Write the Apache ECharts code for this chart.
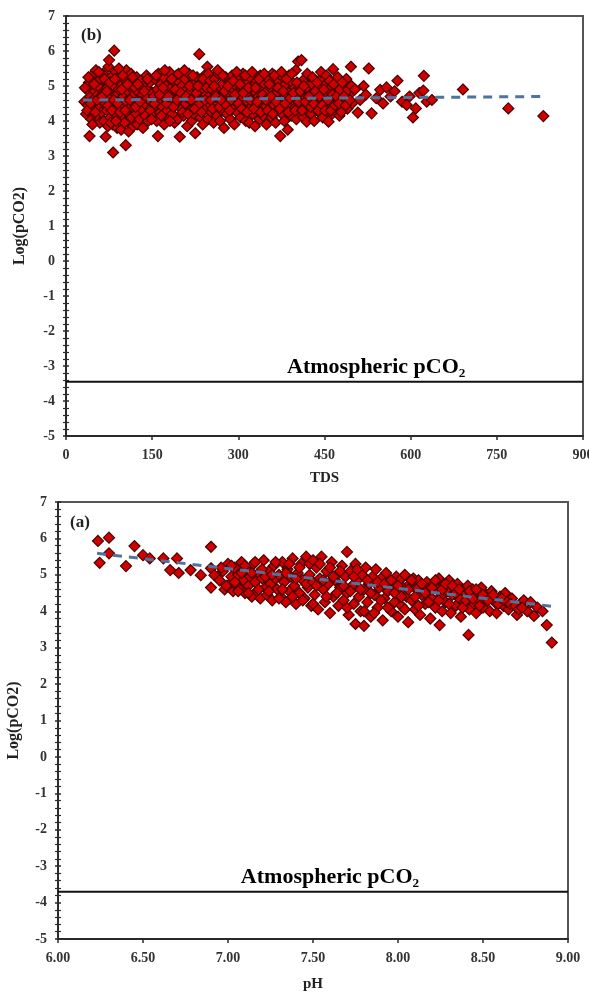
<!DOCTYPE html>
<html>
<head>
<meta charset="utf-8">
<script src="https://cdn.jsdelivr.net/npm/echarts@6/dist/echarts.min.js"></script>
<style>
  html, body { margin: 0; padding: 0; background: #fff; }
  #chart { width: 589px; height: 992px; }
</style>
</head>
<body>
<div id="chart"></div>
<script>
// Panel (b): TDS vs Log(pCO2), samples below TDS 250
const tdsPointsLow = [
  [32,4.55],[35,4.2],[36,4.9],[38,4.45],[40,5.1],[41,3.57],[42,4.7],[44,4.05],[45,5.3],[47,4.6],[48,4.35],[50,4.85],[52,5.45],[53,4.15],[55,4.75],[56,5.0],[58,4.4],[59,3.95],[60,5.2],
  [61,4.6],[62,4.25],[64,5.35],[65,4.8],[66,4.0],[68,4.5],[69,3.55],[70,5.1],[71,4.3],[72,4.95],[73,3.85],[74,5.55],[75,5.74],[76,4.65],[77,4.1],[78,5.25],[79,4.45],[80,4.85],[81,3.9],[82,3.1],[83,5.0],[84,6.01],[85,4.55],[86,4.2],[87,5.4],[88,4.75],[89,3.8],[90,5.15],[91,4.35],[92,4.9],[93,4.0],[94,5.3],[95,4.6],[96,3.75],[97,4.45],[98,5.05],[99,4.15],[100,4.7],
  [101,5.2],[102,3.95],[104,3.31],[104,4.55],[105,5.45],[106,4.25],[108,4.85],[109,3.7],[110,5.0],[112,4.4],[113,5.35],[114,4.1],[115,4.7],[117,3.85],[118,5.1],[119,4.5],[120,4.95],[122,4.2],[123,5.25],[124,3.9],[126,4.6],[127,4.8],[128,4.05],[130,5.15],[131,4.35],[133,4.75],[134,3.8],[135,5.0],[137,4.5],[138,4.15],[140,5.3],[141,4.65],[143,4.0],[144,4.9],[146,5.1],[147,4.3],[148,4.55],[150,4.8],
  [152,4.1],[153,4.7],[155,5.2],[156,4.45],[158,4.0],[159,4.9],[160,3.57],[161,5.35],[162,4.6],[164,4.25],[165,5.05],[167,4.8],[168,4.4],[170,5.25],[171,3.9],[173,4.65],[174,5.0],[176,4.3],[177,4.85],[179,4.1],[180,5.4],[182,4.55],[183,4.95],[185,4.2],[186,5.15],[188,4.7],[189,3.95],[191,4.45],[192,5.3],[194,4.8],[195,4.05],[197,5.1],[198,3.55],[199,4.6],[201,4.35],[202,5.0],[204,4.75],[205,4.15],[207,5.2],[208,4.5],[210,4.9],[211,3.85],[213,4.65],[214,5.35],[216,4.3],[217,4.85],[219,4.0],[220,5.05],[222,4.55],[223,4.2],[225,3.65],[226,4.95],[228,5.25],[229,4.4],[231,4.7],[232,5.91],[234,4.1],[235,5.1],[237,4.6],[238,3.9],[240,4.85],[241,5.3],[243,4.35],[244,4.75],[246,5.55],[247,4.05],[249,4.5],
  [33,4.95],[37,4.3],[39,5.25],[43,4.5],[46,3.9],[49,5.05],[51,4.25],[54,4.6],[57,5.4],[63,4.7],[67,5.2],[71,4.85],[73,4.45],[76,5.1],[78,3.95],[80,4.3],[83,4.6],[85,5.2],[87,4.0],[90,4.5],[92,5.5],[94,4.25],[97,4.9],[99,5.3],[103,4.3],[107,5.05],[111,4.6],[116,5.25],[121,4.4],[125,5.05],[129,4.55],[136,4.85],[142,5.2],[149,4.05],
  [154,4.5],[157,5.3],[163,4.75],[166,4.15],[169,4.95],[172,5.45],[175,4.5],[178,4.7],[181,4.0],[184,5.2],[187,4.4],[190,4.9],[193,4.6],[196,5.35],[200,4.8],[203,4.25],[206,5.45],[209,4.7],[212,4.2],[215,5.0],[218,4.6],[221,5.3],[224,4.35],[227,4.8],[230,5.0],[233,4.5],[236,4.25],[239,5.2],[242,4.6],[245,4.95],[248,5.35]
];
// Panel (b): samples from TDS 250 upward
const tdsPointsHigh = [
  [251,5.15],[253,4.25],[254,4.9],[256,4.6],[257,3.95],[259,5.2],[260,4.45],[262,4.8],[263,4.15],[265,5.35],[266,4.65],[268,4.0],[269,4.95],[271,4.3],[272,5.05],[274,4.7],[275,3.8],[277,4.5],[278,5.25],[280,4.2],[281,4.85],[283,4.55],[284,5.1],[286,4.05],[287,4.75],[289,5.3],[290,4.35],[292,4.9],[293,3.9],[295,4.6],[296,5.0],[298,4.25],[299,4.8],
  [301,5.2],[302,4.45],[304,4.1],[305,4.95],[307,4.65],[308,5.35],[310,4.3],[311,4.85],[313,4.0],[314,5.1],[316,4.55],[317,4.75],[319,3.95],[320,5.25],[322,4.4],[323,4.9],[325,4.2],[326,5.0],[328,4.6],[329,3.85],[331,4.8],[332,5.15],[334,4.35],[335,4.7],[337,4.05],[338,5.3],[340,4.5],[341,4.95],[343,4.15],[344,4.65],[346,5.05],[347,4.4],[349,3.9],
  [350,4.85],[352,5.2],[353,4.25],[355,4.6],[356,4.95],[358,4.1],[359,5.35],[361,4.7],[362,4.45],[364,5.0],[365,3.95],[367,4.8],[368,4.3],[370,5.15],[371,4.55],[373,3.57],[374,4.9],[376,4.2],[377,5.25],[379,4.65],[380,4.0],[382,5.05],[383,4.4],[385,4.75],[386,3.75],[388,5.3],[389,4.5],[391,4.85],[392,4.15],[394,5.1],[395,4.6],[397,4.35],[398,4.95],[400,5.45],
  [401,4.05],[403,4.7],[404,5.7],[406,4.25],[407,5.0],[409,4.5],[410,5.74],[412,4.8],[413,4.1],[415,5.2],[416,4.65],[418,4.35],[419,3.98],[421,4.9],[422,5.3],[424,4.45],[425,4.75],[427,4.2],[428,5.05],[430,4.6],[432,4.0],[433,4.85],[435,5.15],[436,4.4],[438,4.7],[440,4.25],[442,4.95],[443,5.2],[445,4.5],[447,4.1],[448,4.8],[450,4.6],
  [452,5.05],[454,4.35],[455,4.75],[457,3.98],[458,4.9],[460,4.45],[462,5.1],[463,4.2],[465,5.48],[467,4.65],[469,4.85],[470,4.3],[472,5.0],[474,4.55],[476,4.15],[478,4.8],[480,4.4],[482,4.95],[485,4.6],[488,5.2],[490,4.35],[493,4.75],[496,5.55],[498,4.5],
  [252,4.6],[255,4.35],[258,5.0],[261,4.7],[264,5.45],[267,4.4],[270,4.6],[273,5.3],[276,4.85],[279,4.45],[282,5.0],[285,4.3],[288,4.6],[291,5.15],[294,4.75],[297,5.4],[300,4.5],[303,5.05],[306,4.35],[309,4.8],[312,5.3],[315,4.25],[318,4.95],[321,4.6],[324,5.4],[327,4.35],[330,4.95],[333,4.55],[336,5.2],[339,4.25],[342,4.75],[345,5.35],[348,4.6],
  [351,4.3],[354,5.05],[357,4.7],[360,4.2],[363,5.3],[366,4.55],[369,4.95],[372,4.35],[375,5.4],[378,4.85],[381,4.5],[384,5.2],[387,4.25],[390,4.65],[393,5.35],[396,4.8],[399,4.3],[402,5.1],[405,4.55],[408,4.85],[411,4.3],[414,5.0],[417,4.55],[420,5.35],[423,4.7],[426,4.4],[429,5.25],[431,4.5],[434,4.85],[437,5.1],[439,4.3],[441,4.7],[444,5.4],[446,4.45],[449,4.9],
  [451,4.3],[453,5.3],[456,4.6],[459,5.15],[461,4.3],[464,4.75],[466,5.05],[468,4.45],[471,4.7],[473,5.25],[475,4.5],[477,4.9],[479,4.25],[481,5.1],[484,4.7],[487,4.45],[491,4.9],[494,4.6],[497,5.0],
  [503,4.9],[508,4.24],[512,4.6],[518,5.0],[522,4.75],[527,5.5],[532,4.22],[540,4.65],[547,4.89],[552,4.5],[558,4.96],[565,4.7],[572,4.85],[577,5.15],[585,4.55],[593,4.46],[598,4.7],[604,4.1],[609,4.36],[615,4.8],[622,4.87],[623,5.29],[628,4.55],[637,4.6],[691,4.9],[770,4.36],[831,4.14]
];
// Fitted trend for panel (b)
const tdsTrend = [[30, 4.6], [830, 4.7]];

// Panel (a): pH vs Log(pCO2), samples below pH 7.5
const phPointsLow = [
  [6.235,5.93],[6.30,6.02],[6.245,5.33],[6.30,5.59],[6.40,5.24],[6.45,5.79],[6.50,5.54],[6.54,5.45],[6.62,5.45],[6.66,5.13],[6.70,5.45],[6.71,5.05],[6.78,5.13],[6.84,4.99],[6.90,5.77],[6.90,4.65],[6.90,5.18],[6.92,4.99],
  [6.95,4.85],[6.97,5.1],[6.98,4.6],[7.0,5.3],[7.01,4.75],[7.02,4.95],[7.03,4.55],[7.04,5.2],[7.05,4.7],[7.06,5.0],[7.07,4.6],[7.08,5.35],[7.09,4.85],[7.1,4.5],
  [7.11,5.15],[7.12,4.7],[7.13,4.95],[7.14,4.4],[7.15,5.3],[7.16,4.8],[7.17,4.55],[7.18,5.05],[7.19,4.35],[7.2,4.9],[7.21,5.4],[7.22,4.65],[7.23,4.45],[7.24,5.1],[7.25,4.75],[7.26,4.3],[7.27,5.25],[7.28,4.9],[7.29,4.6],[7.3,5.0],
  [7.31,4.4],[7.32,5.35],[7.33,4.8],[7.34,4.25],[7.35,5.15],[7.36,4.55],[7.37,4.95],[7.38,5.45],[7.39,4.7],[7.4,4.2],[7.41,5.05],[7.42,4.5],[7.43,5.3],[7.44,4.85],[7.45,4.35],[7.46,5.5],[7.47,4.65],[7.48,5.0],[7.49,4.15],
  [6.96,5.2],[6.99,4.7],[7.02,5.25],[7.04,4.8],[7.06,4.55],[7.08,5.05],[7.1,5.25],[7.12,4.5],[7.14,5.05],[7.16,5.35],[7.18,4.6],[7.2,5.15],[7.22,4.95],[7.24,4.55],[7.26,5.0],[7.28,5.35],[7.3,4.35],[7.32,4.6],[7.34,5.05],[7.36,5.3],[7.38,4.4],[7.4,4.9],[7.42,5.2],[7.44,4.3],[7.46,4.75],[7.48,5.3]
];
// Panel (a): samples from pH 7.5 upward
const phPointsHigh = [
  [7.5,5.4],[7.5,4.8],
  [7.51,4.45],[7.52,5.2],[7.53,4.05],[7.54,4.9],[7.55,5.5],[7.56,4.6],[7.57,4.25],[7.58,5.1],[7.59,4.75],[7.6,3.95],[7.61,5.35],[7.62,4.4],[7.63,4.85],[7.64,5.0],[7.65,4.15],[7.66,4.65],[7.67,5.25],[7.68,4.3],[7.69,4.95],[7.7,5.63],[7.7,4.5],
  [7.71,3.9],[7.72,5.1],[7.73,4.7],[7.74,4.2],[7.75,3.65],[7.75,5.3],[7.76,4.85],[7.77,4.4],[7.78,4.0],[7.79,5.0],[7.8,3.6],[7.8,4.6],[7.81,5.2],[7.82,4.25],[7.83,4.75],[7.84,3.85],[7.85,4.95],[7.86,4.45],[7.87,5.15],[7.88,4.1],[7.89,4.65],[7.9,4.9],
  [7.91,3.75],[7.92,4.35],[7.93,5.05],[7.94,4.55],[7.95,4.8],[7.96,4.0],[7.97,4.7],[7.98,4.25],[7.99,4.95],[8.0,3.85],[8.0,4.5],[8.01,4.85],[8.02,4.15],[8.03,4.65],[8.04,5.0],[8.05,4.4],[8.06,3.7],[8.07,4.75],[8.08,4.3],[8.09,4.9],[8.1,4.05],
  [8.11,4.6],[8.12,4.85],[8.13,3.9],[8.14,4.45],[8.15,4.7],[8.16,4.2],[8.17,4.8],[8.18,4.55],[8.19,3.8],[8.2,4.35],[8.21,4.75],[8.22,4.1],[8.23,4.6],[8.24,4.9],[8.245,3.62],[8.25,4.4],[8.26,4.0],[8.27,4.7],[8.28,4.25],[8.29,4.55],[8.3,4.85],
  [8.31,3.95],[8.32,4.45],[8.33,4.65],[8.34,4.15],[8.35,4.75],[8.36,4.35],[8.37,3.85],[8.38,4.6],[8.39,4.25],[8.4,4.5],[8.41,4.7],[8.415,3.35],[8.42,4.05],[8.43,4.4],[8.44,4.6],[8.45,4.2],[8.46,3.95],[8.47,4.5],[8.48,4.3],[8.49,4.65],[8.5,4.1],
  [8.52,4.45],[8.54,4.0],[8.55,4.55],[8.57,4.25],[8.58,3.95],[8.6,4.4],[8.62,4.15],[8.63,4.5],[8.65,4.05],[8.67,4.35],[8.7,3.9],[8.72,4.2],[8.74,4.3],[8.76,4.0],[8.8,3.87],[8.82,4.1],[8.875,3.62],[8.905,3.14],
  [7.5,4.2],[7.52,4.7],[7.54,5.3],[7.56,4.85],[7.58,4.4],[7.6,5.2],[7.62,4.95],[7.64,4.5],[7.66,5.1],[7.68,4.7],[7.7,4.1],[7.72,4.55],[7.74,4.95],[7.76,5.15],[7.78,4.6],[7.8,4.0],[7.82,4.85],[7.84,4.5],[7.86,3.95],[7.88,4.8],[7.9,4.3],[7.92,4.75],[7.94,4.1],[7.96,4.85],[7.98,4.5],
  [8.0,4.7],[8.02,4.4],[8.04,4.05],[8.06,4.6],[8.08,4.85],[8.1,4.4],[8.12,4.15],[8.14,4.75],[8.16,4.5],[8.18,4.25],[8.2,4.65],[8.22,4.85],[8.24,4.3],[8.26,4.6],[8.28,4.75],[8.3,4.2],[8.32,4.7],[8.34,4.5],[8.36,4.6],[8.38,4.1],[8.4,4.3],[8.42,4.55],[8.44,4.35],[8.46,4.6],[8.48,4.15],
  [8.5,4.45],[8.53,4.3],[8.56,4.45],[8.59,4.2],[8.61,4.35],[8.64,4.25],[8.66,4.2],[8.69,4.15],[8.71,4.05],[8.73,4.1],[8.78,4.25],[8.85,4.0]
];
// Fitted trend for panel (a)
const phTrend = [[6.23, 5.59], [8.9, 4.14]];

// Atmospheric reference levels and label anchors
const atmTds = [[0, -3.45], [900, -3.45]];
const atmTdsLabel = [[540, -3.45]];
const atmPh = [[6, -3.7], [9, -3.7]];
const atmPhLabel = [[7.6, -3.7]];

const tdsTicks = [0, 150, 300, 450, 600, 750, 900];
const phTicks = [6.0, 6.5, 7.0, 7.5, 8.0, 8.5, 9.0];
const logTicks = [-5, -4, -3, -2, -1, 0, 1, 2, 3, 4, 5, 6, 7];

const FONT = '"Liberation Serif", "Times New Roman", serif';
const AXIS_COLOR = '#2a2a2a';

function xAxisFor(grid, ticks, name, gap, fmt) {
  return {
    gridIndex: grid, type: 'value', position: 'bottom',
    min: ticks[0], max: ticks[ticks.length - 1], interval: ticks[1] - ticks[0],
    name: name, nameLocation: 'middle', nameGap: gap,
    nameTextStyle: { fontFamily: FONT, fontWeight: 'bold', fontSize: 15, color: '#222' },
    axisLine: { onZero: false, lineStyle: { color: AXIS_COLOR, width: 2 } },
    axisTick: { length: 4, lineStyle: { color: AXIS_COLOR, width: 1.5 } },
    splitLine: { show: false },
    axisLabel: { fontFamily: FONT, fontWeight: 'bold', fontSize: 14, color: '#333', margin: 12, formatter: fmt, hideOverlap: false }
  };
}
function yAxisFor(grid, gap) {
  return {
    gridIndex: grid, type: 'value', position: 'left',
    min: logTicks[0], max: logTicks[logTicks.length - 1], interval: 1,
    name: 'Log(pCO2)', nameLocation: 'middle', nameGap: gap,
    nameTextStyle: { fontFamily: FONT, fontWeight: 'bold', fontSize: 16, color: '#222' },
    axisLine: { onZero: false, lineStyle: { color: AXIS_COLOR, width: 2 } },
    axisTick: { length: 3, lineStyle: { color: AXIS_COLOR, width: 1.5 } },
    minorTick: { show: true, splitNumber: 5, length: 3, lineStyle: { color: AXIS_COLOR, width: 1.2 } },
    splitLine: { show: false },
    axisLabel: { fontFamily: FONT, fontWeight: 'bold', fontSize: 14, color: '#333', margin: 11 }
  };
}
// inner half of the crossing ticks on the y axis
function yInnerFor(grid) {
  return {
    gridIndex: grid, type: 'value', position: 'left',
    min: logTicks[0], max: logTicks[logTicks.length - 1], interval: 1,
    axisLine: { show: false, onZero: false },
    axisTick: { inside: true, length: 3, lineStyle: { color: AXIS_COLOR, width: 1.5 } },
    minorTick: { show: true, splitNumber: 5, length: 3, lineStyle: { color: AXIS_COLOR, width: 1.2 } },
    splitLine: { show: false },
    axisLabel: { show: false }
  };
}

const markerStyle = { color: '#d00000', borderColor: '#4a0000', borderWidth: 1.2, opacity: 1 };
const trendStyle = { color: '#4f739c', width: 3, type: [9, 7] };
const atmLabel = {
  show: true, position: 'top', distance: 3,
  formatter: 'Atmospheric pCO₂',
  fontFamily: FONT, fontWeight: 'bold', fontSize: 22, color: '#000', opacity: 1
};

function pointSeries(xi, yi, data) {
  return { type: 'scatter', xAxisIndex: xi, yAxisIndex: yi, data: data, symbol: 'diamond', symbolSize: 11, itemStyle: markerStyle, z: 2 };
}

const option = {
  backgroundColor: '#fff',
  animation: false,
  title: [
    { text: '(b)', left: 76, top: 22, textStyle: { fontFamily: FONT, fontWeight: 'bold', fontSize: 17, color: '#222' } },
    { text: '(a)', left: 65, top: 509, textStyle: { fontFamily: FONT, fontWeight: 'bold', fontSize: 17, color: '#222' } }
  ],
  grid: [
    { left: 66, top: 16, width: 517, height: 420, outerBoundsMode: 'none', containLabel: false, show: true, borderColor: '#555', borderWidth: 2, backgroundColor: 'transparent' },
    { left: 58, top: 502, width: 510, height: 437, outerBoundsMode: 'none', containLabel: false, show: true, borderColor: '#555', borderWidth: 2, backgroundColor: 'transparent' }
  ],
  xAxis: [
    xAxisFor(0, tdsTicks, 'TDS', 35, v => String(v)),
    xAxisFor(1, phTicks, 'pH', 38, v => v.toFixed(2))
  ],
  yAxis: [
    yAxisFor(0, 38), yInnerFor(0),
    yAxisFor(1, 36), yInnerFor(1)
  ],
  series: [
    pointSeries(0, 0, tdsPointsLow),
    pointSeries(0, 0, tdsPointsHigh),
    { type: 'line', xAxisIndex: 0, yAxisIndex: 0, data: tdsTrend, symbol: 'none', lineStyle: trendStyle, z: 3 },
    { type: 'line', xAxisIndex: 0, yAxisIndex: 0, data: atmTds, symbol: 'none', lineStyle: { color: '#111', width: 2 }, z: 3 },
    { type: 'scatter', xAxisIndex: 0, yAxisIndex: 0, data: atmTdsLabel, symbolSize: 0, label: atmLabel, z: 4 },

    pointSeries(1, 2, phPointsLow),
    pointSeries(1, 2, phPointsHigh),
    { type: 'line', xAxisIndex: 1, yAxisIndex: 2, data: phTrend, symbol: 'none', lineStyle: trendStyle, z: 3 },
    { type: 'line', xAxisIndex: 1, yAxisIndex: 2, data: atmPh, symbol: 'none', lineStyle: { color: '#111', width: 2 }, z: 3 },
    { type: 'scatter', xAxisIndex: 1, yAxisIndex: 2, data: atmPhLabel, symbolSize: 0, label: atmLabel, z: 4 }
  ]
};

const chart = echarts.init(document.getElementById('chart'), null, { renderer: 'canvas' });
chart.setOption(option);
</script>
</body>
</html>
